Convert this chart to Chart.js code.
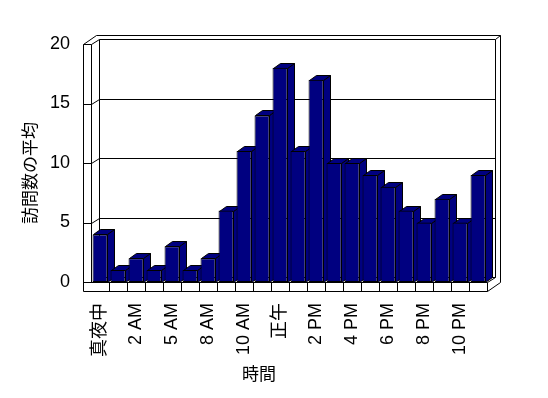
<!DOCTYPE html>
<html>
<head>
<meta charset="utf-8">
<script src="https://cdn.jsdelivr.net/npm/chart.js@4/dist/chart.umd.min.js"></script>
<style>
  html, body { margin: 0; padding: 0; background: #fff; }
  #wrap { width: 548px; height: 398px; }
</style>
</head>
<body>
<div id="wrap"><canvas id="grafik" width="548" height="398"></canvas></div>
<script>
// data
const hours = ['真夜中', '1 AM', '2 AM', '4 AM', '5 AM', '7 AM', '8 AM', '9 AM', '10 AM', '11 AM',
  '正午', '1 PM', '2 PM', '3 PM', '4 PM', '5 PM', '6 PM', '7 PM', '8 PM', '9 PM', '10 PM', '11 PM'];
const visits = [4, 1, 2, 1, 3, 1, 2, 6, 11, 14, 18, 11, 17, 10, 10, 9, 8, 6, 5, 7, 5, 9];
const gridValues = [5, 10, 15];
const xTitle = '時間';
const yTitle = '訪問数の平均';

const FONT = '"Liberation Sans", "Noto Sans CJK JP", sans-serif';
const NAVY = '#000080';

// 3d look: depth of the plot box, outer edge of the walls, depth of bars
const DX = 8, DY = -5;
const OX = 13, OY = -9;
const BX = 7, BY = -5;
const WALL = 8, FLOOR = 9;

const p = v => Math.round(v) + 0.5;

const box3d = {
  id: 'box3d',
  beforeDatasetsDraw(chart) {
    const ctx = chart.ctx;
    const a = chart.chartArea;
    const y = chart.scales.y;
    const L = a.left, R = a.right;
    const T = y.getPixelForValue(y.max), B = y.getPixelForValue(0);
    ctx.save();
    ctx.strokeStyle = '#000';
    ctx.lineWidth = 1;
    const path = pts => {
      ctx.beginPath();
      pts.forEach(([px, py], i) => i ? ctx.lineTo(p(px), p(py)) : ctx.moveTo(p(px), p(py)));
    };
    const line = pts => { path(pts); ctx.stroke(); };

    // back wall
    line([[L + DX, B + DY], [L + DX, T + DY], [R + DX, T + DY], [R + DX, B + DY], [L + DX, B + DY]]);
    gridValues.forEach(v => {
      const yy = y.getPixelForValue(v);
      line([[L - WALL, yy], [L, yy], [L + DX, yy + DY], [R + DX, yy + DY]]);
    });
    // outer outline
    line([[L - WALL, B + FLOOR], [L - WALL, T], [L - WALL + OX, T + OY], [R + OX, T + OY],
          [R + OX, B + FLOOR + OY], [R, B + FLOOR], [L - WALL, B + FLOOR]]);
    // left wall
    line([[L - WALL, T], [L, T], [L + DX, T + DY]]);
    line([[L, B], [L, T]]);
    line([[R + DX, T + DY], [R + OX, T + OY]]);
    // floor
    line([[L - WALL, B], [R, B], [R, B + FLOOR]]);
    line([[R, B], [R + DX, B + DY]]);
    const n = hours.length;
    for (let k = 1; k < n; k++) {
      const xx = L + k * (R - L) / n;
      line([[xx, B], [xx, B + FLOOR]]);
    }

    // sides and tops of the bars
    ctx.fillStyle = NAVY;
    chart.getDatasetMeta(0).data.forEach(bar => {
      const {x, y: top, base, width} = bar.getProps(['x', 'y', 'base', 'width'], true);
      const l = x - width / 2, r = x + width / 2;
      path([[r, top], [r + BX, top + BY], [r + BX, base + BY], [r, base], [r, top]]);
      ctx.fill(); ctx.stroke();
      path([[l, top], [l + BX, top + BY], [r + BX, top + BY], [r, top], [l, top]]);
      ctx.fill(); ctx.stroke();
    });
    ctx.restore();
  },
  afterDraw(chart) {
    const ctx = chart.ctx;
    ctx.save();
    ctx.fillStyle = '#000';
    ctx.font = '17px ' + FONT;
    ctx.textAlign = 'center';
    ctx.textBaseline = 'middle';
    ctx.fillText(xTitle, 259, 375);
    ctx.translate(31, 173);
    ctx.rotate(-Math.PI / 2);
    ctx.fillText(yTitle, 0, 0);
    ctx.restore();
  }
};

new Chart(document.getElementById('grafik'), {
  type: 'bar',
  data: {
    labels: hours,
    datasets: [{
      data: visits,
      backgroundColor: NAVY,
      borderColor: '#000',
      borderWidth: 1,
      borderSkipped: false,
      barPercentage: 0.83,
      categoryPercentage: 1
    }]
  },
  options: {
    responsive: false,
    animation: false,
    layout: { padding: { top: 44, right: 61, left: 0, bottom: 0 } },
    plugins: { legend: { display: false }, tooltip: { enabled: false } },
    scales: {
      x: {
        grid: { display: false, drawTicks: false },
        border: { display: false },
        ticks: {
          autoSkip: false,
          minRotation: 90,
          maxRotation: 90,
          padding: 21,
          color: '#000',
          font: { size: 18, family: FONT },
          callback: (v, i) => i % 2 === 0 ? hours[i] : ''
        },
        afterFit: s => { s.height = 116; }
      },
      y: {
        min: 0,
        max: 20,
        grid: { display: false, drawTicks: false },
        border: { display: false },
        ticks: {
          stepSize: 5,
          padding: 21,
          color: '#000',
          font: { size: 18, family: FONT }
        },
        afterFit: s => { s.width = 91; }
      }
    }
  },
  plugins: [box3d]
});
</script>
</body>
</html>
